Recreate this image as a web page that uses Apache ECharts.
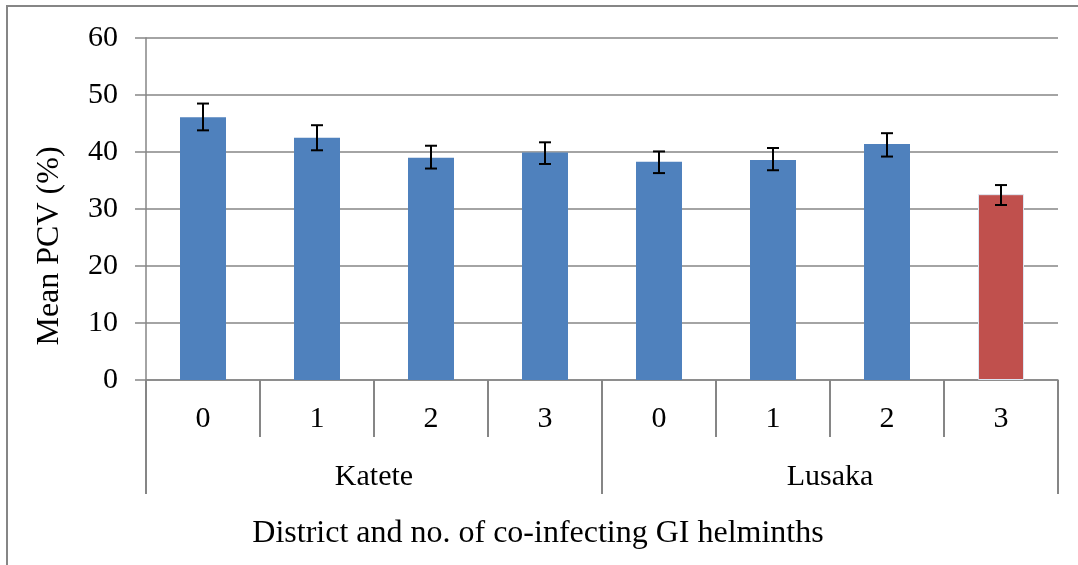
<!DOCTYPE html>
<html>
<head>
<meta charset="utf-8">
<script src="https://cdn.jsdelivr.net/npm/echarts@6/dist/echarts.min.js"></script>
<style>
html, body { margin: 0; padding: 0; background: #fff; }
#chart_div { width: 1078px; height: 565px; }
</style>
</head>
<body>
<div id="chart_div"></div>
<script>
var districts = ['Katete', 'Lusaka'];
var helminthCounts = ['0', '1', '2', '3', '0', '1', '2', '3'];
var meanPcv = [46.1, 42.5, 39.0, 39.9, 38.3, 38.6, 41.4, 32.6];
var errLow = [43.8, 40.3, 37.1, 37.9, 36.3, 36.8, 39.2, 30.7];
var errHigh = [48.5, 44.7, 41.1, 41.7, 40.1, 40.7, 43.3, 34.2];
var yTicks = [0, 10, 20, 30, 40, 50, 60];

var font = '"Liberation Serif", "Times New Roman", serif';
var gray = '#868686';

var barData = meanPcv.map(function (v, i) {
    // last bar is red in the original
    if (i === meanPcv.length - 1) {
        return { value: v, itemStyle: { color: '#C0504D', borderColor: '#dce6f2', borderWidth: 1 } };
    }
    return v;
});
var errData = meanPcv.map(function (v, i) {
    return [i, errLow[i], errHigh[i]];
});

var myChart = echarts.init(document.getElementById('chart_div'));
var option = {
    animation: false,
    backgroundColor: '#fff',
    grid: { left: 146, right: 20, top: 38, bottom: 185 },
    xAxis: [
        {
            type: 'category',
            data: helminthCounts,
            position: 'bottom',
            axisLine: { show: true, lineStyle: { color: gray, width: 1.5 } },
            axisTick: { show: true, length: 57, lineStyle: { color: gray, width: 2 } },
            axisLabel: { margin: 24, fontFamily: font, fontSize: 30, color: '#000' }
        },
        {
            type: 'category',
            data: districts,
            position: 'bottom',
            axisLine: { show: false },
            axisTick: { show: true, length: 114, lineStyle: { color: gray, width: 2 } },
            axisLabel: { margin: 82, fontFamily: font, fontSize: 30, color: '#000' }
        }
    ],
    yAxis: {
        type: 'value',
        min: yTicks[0],
        max: yTicks[yTicks.length - 1],
        interval: 10,
        axisLine: { show: true, lineStyle: { color: gray, width: 1.5 } },
        axisTick: { show: true, length: 11, lineStyle: { color: gray, width: 1.5 } },
        axisLabel: { margin: 28, fontFamily: font, fontSize: 30, color: '#000' },
        splitLine: { show: true, lineStyle: { color: gray, width: 1.5 } }
    },
    graphic: [
        {
            type: 'rect',
            shape: { x: 7, y: 6, width: 1200, height: 700 },
            style: { fill: 'none', stroke: gray, lineWidth: 2 },
            silent: true
        },
        {
            type: 'text',
            x: 50, y: 246,
            rotation: Math.PI / 2,
            style: {
                text: 'Mean PCV (%)',
                font: '32px ' + font,
                fill: '#000',
                align: 'center',
                verticalAlign: 'middle'
            }
        },
        {
            type: 'text',
            x: 538, y: 534,
            style: {
                text: 'District and no. of co-infecting GI helminths',
                font: '32px ' + font,
                fill: '#000',
                align: 'center',
                verticalAlign: 'middle'
            }
        }
    ],
    series: [
        {
            name: 'Mean PCV',
            type: 'bar',
            xAxisIndex: 0,
            barWidth: 46,
            itemStyle: { color: '#4F81BD' },
            data: barData,
            z: 2
        },
        {
            name: 'error',
            type: 'custom',
            xAxisIndex: 0,
            data: errData,
            z: 3,
            renderItem: function (params, api) {
                var x = api.value(0);
                var hi = api.coord([x, api.value(2)]);
                var lo = api.coord([x, api.value(1)]);
                var half = 6;
                var style = { stroke: '#000', lineWidth: 2 };
                return {
                    type: 'group',
                    children: [
                        { type: 'line', shape: { x1: hi[0], y1: hi[1], x2: lo[0], y2: lo[1] }, style: style },
                        { type: 'line', shape: { x1: hi[0] - half, y1: hi[1], x2: hi[0] + half, y2: hi[1] }, style: style },
                        { type: 'line', shape: { x1: lo[0] - half, y1: lo[1], x2: lo[0] + half, y2: lo[1] }, style: style }
                    ]
                };
            }
        }
    ]
};
myChart.setOption(option);
</script>
</body>
</html>
